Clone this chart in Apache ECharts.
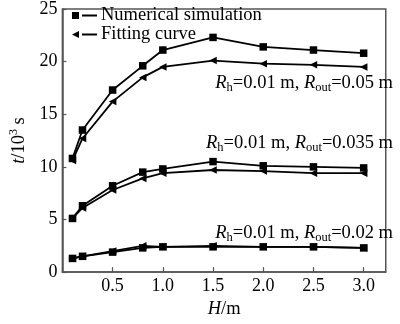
<!DOCTYPE html>
<html><head><meta charset="utf-8">
<script src="https://cdn.jsdelivr.net/npm/echarts@6/dist/echarts.min.js"></script>
<style>html,body{margin:0;padding:0;background:#fff}#c{width:400px;height:324px}</style>
</head><body><div id="c"></div>
<script>
var H = [0.1, 0.2, 0.5, 0.8, 1.0, 1.5, 2.0, 2.5, 3.0];
var num005 = [10.8, 13.5, 17.3, 19.6, 21.1, 22.3, 21.4, 21.1, 20.8];
var fit005 = [10.6, 12.7, 16.2, 18.5, 19.5, 20.1, 19.8, 19.7, 19.5];
var num0035 = [5.1, 6.3, 8.2, 9.5, 9.8, 10.5, 10.1, 10.0, 9.9];
var fit0035 = [5.1, 6.1, 7.8, 8.9, 9.4, 9.7, 9.6, 9.4, 9.4];
var num002 = [1.3, 1.5, 1.9, 2.3, 2.4, 2.4, 2.4, 2.4, 2.3];
var fit002 = [1.3, 1.5, 2.0, 2.5, 2.4, 2.5, 2.4, 2.4, 2.3];
var legendNames = ['Numerical simulation', 'Fitting curve'];
var notes = [
  {rout: '0.05', y: 85},
  {rout: '0.035', y: 145},
  {rout: '0.02', y: 235}
];

var FONT = '"Liberation Serif", "Times New Roman", serif';
var SQ = 'path://M0,0H6V6H0Z';
var TRI = 'path://M0,3L6,0V6Z';
function pairs(ys){ return H.map(function(h,i){ return [h, ys[i]]; }); }
function mk(name, ys, sym){
  return {
    name: name, type: 'line', data: pairs(ys),
    symbol: sym, symbolSize: 7.5,
    showSymbol: true,
    lineStyle: {color: '#000', width: 1.8},
    itemStyle: {color: '#000'},
    animation: false
  };
}
var richNote = {
  i: {fontFamily: FONT, fontSize: 18.5, fontStyle: 'italic', color: '#000', lineHeight: 22},
  n: {fontFamily: FONT, fontSize: 18.5, color: '#000', lineHeight: 22},
  s: {fontFamily: FONT, fontSize: 12.5, color: '#000', verticalAlign: 'bottom', lineHeight: 12}
};
var chart = echarts.init(document.getElementById('c'), null, {renderer: 'canvas'});
chart.setOption({
  animation: false,
  backgroundColor: '#fff',
  grid: {left: 46, right: 4, top: 4, bottom: 40, show: true, borderColor: '#555', borderWidth: 1.5, backgroundColor: 'transparent'},
  legend: {
    orient: 'vertical', left: 67, top: 1, itemGap: 0,
    itemWidth: 25, itemHeight: 7,
    data: [
      {name: legendNames[0], icon: 'path://M0,0H7V7H0Z M10,2.6H25V4.4H10Z'},
      {name: legendNames[1], icon: 'path://M0,3.5L7,0V7Z M10,2.6H25V4.4H10Z'}
    ],
    itemStyle: {color: '#000'},
    textStyle: {fontFamily: FONT, fontSize: 18.5, color: '#000', padding: [0,0,0,-1]},
    selectedMode: false
  },
  xAxis: {
    type: 'value', min: 0, max: 3.22, interval: 0.5,
    name: '{i|H}{n|/m}', nameLocation: 'middle', nameGap: 22,
    nameTextStyle: {rich: richNote},
    axisLine: {show: true, lineStyle: {color: '#555', width: 1.5}},
    axisTick: {show: true, inside: true, length: 5, lineStyle: {color: '#555', width: 1.2}},
    splitLine: {show: false},
    axisLabel: {fontFamily: FONT, fontSize: 18, color: '#000', margin: 5,
      formatter: function(v){ return v === 0 ? '' : v.toFixed(1); }}
  },
  yAxis: {
    type: 'value', min: 0, max: 25, interval: 5,
    name: '{i|t}{n|/10}{p|3}{n| s}', nameLocation: 'middle', nameGap: 24, nameRotate: 90,
    nameTextStyle: {rich: {
      i: richNote.i, n: richNote.n,
      p: {fontFamily: FONT, fontSize: 12, color: '#000', verticalAlign: 'top', lineHeight: 12}
    }},
    axisLine: {show: true, lineStyle: {color: '#555', width: 1.5}},
    axisTick: {show: true, inside: true, length: 4, lineStyle: {color: '#555', width: 1.2}},
    splitLine: {show: false},
    axisLabel: {fontFamily: FONT, fontSize: 18, color: '#000', margin: 5}
  },
  graphic: notes.map(function(n){
    return {
      type: 'text', right: 7, top: n.y - 11,
      style: {
        text: '{i|R}{s|h}{n|=0.01 m, }{i|R}{s|out}{n|=' + n.rout + ' m}',
        rich: richNote, fill: '#000'
      }
    };
  }),
  series: [
    mk(legendNames[0], num005, SQ),
    mk(legendNames[1], fit005, TRI),
    mk(legendNames[0], num0035, SQ),
    mk(legendNames[1], fit0035, TRI),
    mk(legendNames[0], num002, SQ),
    mk(legendNames[1], fit002, TRI)
  ]
});
</script></body></html>
